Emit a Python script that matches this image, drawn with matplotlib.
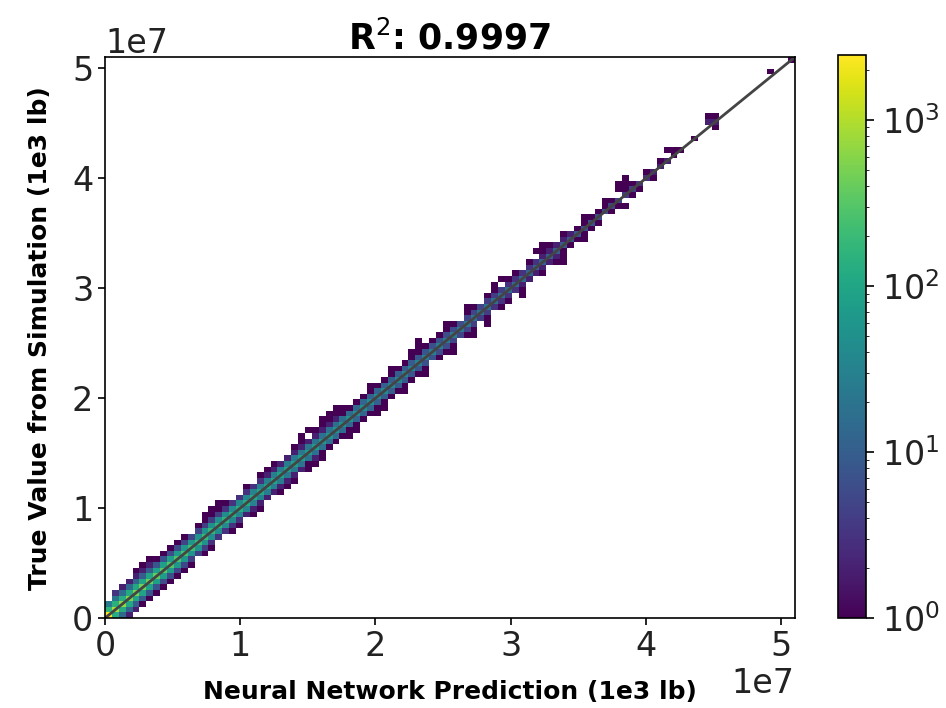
import numpy as np
import matplotlib
matplotlib.use('Agg')
import matplotlib.pyplot as plt
from matplotlib.colors import LogNorm

# 2D histogram of prediction vs truth, 100 x 100 bins over [0, 5.1e7]
N_BINS = 100
V_MAX = 5.1e7
R2 = 0.9997

# counts along the diagonal band, indexed by x-bin; key = y-bin offset
diag = [
    2450, 900, 700, 600, 520, 460, 420, 380, 340, 300,
    270, 245, 225, 205, 190, 175, 160, 150, 140, 130,
    122, 115, 108, 102, 96, 90, 85, 80, 76, 72,
    68, 64, 60, 57, 54, 51, 48, 46, 44, 42,
    40, 38, 36, 34, 32, 30, 29, 28, 27, 26,
    25, 24, 22, 21, 20, 19, 18, 17, 16, 15,
    14, 13, 12, 11, 10, 10, 9, 8, 8, 7,
    7, 6, 6, 5, 5, 4, 4, 3, 3, 2,
    2, 2, 1, 1, 0, 1, 0, 0, 2, 0,
    0, 0, 0, 0, 0, 0, 0, 0, 0, 1,
]
up1 = [
    160, 140, 125, 115, 105, 98, 92, 86, 80, 75,
    70, 65, 60, 56, 52, 49, 46, 43, 40, 38,
    36, 34, 32, 30, 28, 26, 25, 24, 22, 21,
    20, 19, 18, 17, 16, 15, 14, 13, 12, 12,
    11, 10, 10, 9, 9, 8, 8, 7, 7, 6,
    6, 6, 5, 5, 5, 4, 4, 4, 3, 3,
    3, 3, 3, 2, 2, 2, 2, 2, 1, 1,
    1, 1, 1, 1, 0, 1, 1, 0, 1, 0,
    1, 0, 1, 0, 0, 0, 0, 2, 1, 0,
    0, 0, 0, 0, 0, 0, 1, 0, 0, 0,
]
dn1 = [
    0, 130, 118, 108, 100, 92, 86, 80, 75, 70,
    65, 61, 57, 53, 50, 47, 44, 41, 38, 36,
    34, 32, 30, 28, 27, 25, 24, 22, 21, 20,
    19, 18, 17, 16, 15, 14, 13, 12, 12, 11,
    10, 10, 9, 9, 8, 8, 7, 7, 6, 6,
    5, 5, 5, 4, 4, 4, 3, 3, 3, 3,
    2, 2, 2, 2, 2, 2, 1, 1, 1, 1,
    1, 1, 0, 1, 1, 0, 1, 1, 0, 1,
    0, 0, 0, 0, 0, 0, 0, 0, 1, 0,
    0, 0, 0, 0, 0, 0, 0, 0, 0, 0,
]
up2 = [
    25, 20, 16, 14, 12, 10, 9, 8, 7, 6,
    6, 5, 5, 5, 4, 4, 4, 3, 3, 3,
    3, 3, 3, 2, 2, 2, 2, 2, 2, 2,
    2, 2, 2, 2, 1, 1, 1, 1, 1, 1,
    1, 1, 1, 1, 1, 1, 1, 1, 1, 1,
    1, 0, 1, 1, 0, 1, 1, 0, 1, 1,
    0, 1, 0, 1, 1, 0, 1, 0, 0, 1,
    0, 0, 1, 0, 1, 1, 0, 0, 0, 0,
    0, 1, 0, 0, 0, 0, 0, 1, 0, 0,
    0, 0, 0, 0, 0, 0, 0, 0, 0, 0,
]
dn2 = [
    0, 0, 14, 12, 10, 9, 8, 7, 6, 6,
    5, 5, 4, 4, 4, 3, 3, 3, 3, 3,
    2, 2, 2, 2, 2, 2, 2, 2, 2, 1,
    2, 1, 1, 1, 1, 1, 1, 1, 1, 1,
    1, 1, 1, 1, 1, 1, 1, 0, 1, 1,
    1, 0, 1, 1, 0, 1, 0, 1, 1, 0,
    1, 0, 0, 1, 0, 1, 1, 0, 0, 1,
    0, 0, 0, 0, 0, 1, 0, 0, 0, 0,
    0, 0, 0, 0, 0, 0, 0, 0, 0, 0,
    0, 0, 0, 0, 0, 0, 0, 0, 0, 0,
]
up3 = [
    0, 3, 2, 2, 2, 2, 2, 1, 1, 1,
    1, 1, 0, 1, 1, 1, 1, 1, 0, 0,
    1, 0, 1, 1, 1, 0, 0, 1, 1, 0,
    1, 1, 1, 1, 1, 0, 0, 0, 1, 0,
    0, 1, 0, 0, 1, 1, 0, 0, 0, 1,
    0, 0, 1, 0, 0, 0, 1, 1, 0, 0,
    0, 0, 1, 1, 0, 0, 0, 0, 0, 0,
    0, 0, 0, 0, 1, 1, 0, 0, 0, 0,
    0, 0, 0, 0, 0, 0, 0, 0, 0, 0,
    0, 0, 0, 0, 0, 0, 0, 1, 0, 0,
]
dn3 = [
    0, 0, 0, 2, 2, 1, 1, 1, 1, 1,
    1, 1, 1, 0, 1, 1, 0, 0, 1, 1,
    0, 1, 1, 0, 0, 1, 1, 1, 0, 1,
    1, 1, 0, 0, 0, 1, 1, 0, 0, 1,
    1, 0, 0, 1, 0, 0, 1, 0, 0, 0,
    1, 0, 0, 1, 0, 1, 0, 0, 0, 0,
    1, 0, 0, 0, 0, 0, 1, 0, 0, 0,
    0, 0, 0, 0, 0, 0, 0, 0, 0, 0,
    0, 0, 0, 0, 0, 0, 0, 0, 0, 0,
    0, 0, 0, 0, 0, 0, 0, 0, 0, 0,
]
up4 = [
    0, 0, 0, 0, 1, 1, 1, 0, 0, 0,
    0, 0, 0, 0, 1, 1, 1, 0, 0, 0,
    0, 0, 0, 0, 0, 0, 0, 0, 1, 1,
    0, 1, 1, 1, 0, 0, 0, 0, 0, 0,
    0, 0, 0, 0, 0, 1, 0, 0, 0, 0,
    0, 0, 0, 0, 0, 0, 0, 0, 0, 0,
    0, 0, 0, 0, 0, 0, 0, 0, 0, 0,
    0, 0, 0, 0, 0, 0, 0, 0, 0, 0,
    0, 0, 0, 0, 0, 0, 0, 0, 0, 0,
    0, 0, 0, 0, 0, 0, 0, 0, 0, 0,
]

band = {0: diag, 1: up1, -1: dn1, 2: up2, -2: dn2, 3: up3, -3: dn3, 4: up4}

H = np.zeros((N_BINS, N_BINS))
for off, counts in band.items():
    for i, c in enumerate(counts):
        j = i + off
        if 0 <= j < N_BINS and c > 0:
            H[i, j] = c

edges = np.linspace(0, V_MAX, N_BINS + 1)
Hm = np.ma.masked_where(H <= 0, H)

fig = plt.figure(figsize=(9.46, 7.08), dpi=100)
ax = fig.add_axes([0.111, 0.127, 0.729, 0.792])
cax = fig.add_axes([0.886, 0.127, 0.029, 0.795])

mesh = ax.pcolormesh(edges, edges, Hm.T, cmap='viridis',
                     norm=LogNorm(vmin=1, vmax=2450))
ax.plot([0, V_MAX], [0, V_MAX], color='#444444', linewidth=2)
ax.set_xlim(0, V_MAX)
ax.set_ylim(0, V_MAX)

ax.set_title(f'R$^2$: {R2:.4f}', fontsize=25, fontweight='bold', pad=6)
ax.set_xlabel('Neural Network Prediction (1e3 lb)', fontsize=18,
              fontweight='bold', labelpad=12)
ax.set_ylabel('True Value from Simulation (1e3 lb)', fontsize=18,
              fontweight='bold', labelpad=14)
ax.tick_params(labelsize=24, width=1.2, length=5, labelcolor='#222222')
ax.xaxis.get_offset_text().set_fontsize(24)
ax.yaxis.get_offset_text().set_fontsize(24)
for s in ax.spines.values():
    s.set_linewidth(1.2)

cb = fig.colorbar(mesh, cax=cax)
cb.ax.tick_params(labelsize=24, width=1.2, length=6, pad=6, labelcolor='#222222')
cb.outline.set_linewidth(1.2)

fig.savefig('out.png', dpi=100)
